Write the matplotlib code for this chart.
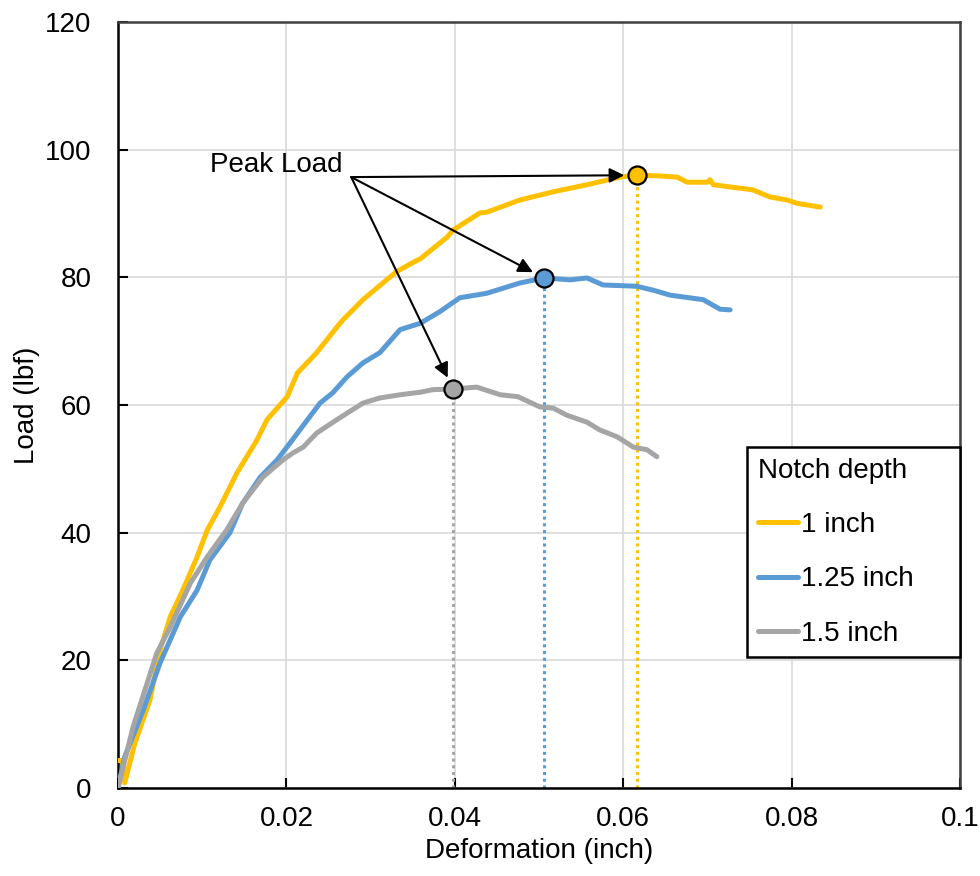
import matplotlib

matplotlib.use("Agg")

import matplotlib.pyplot as plt  # noqa: E402

plt.rcParams["font.family"] = ["Liberation Sans", "DejaVu Sans"]

# 1 inch notch
x_1in = [0.0000, 0.0005, 0.0008, 0.0020, 0.0038, 0.0050, 0.0062, 0.0077, 0.0094,
         0.0106, 0.0121, 0.0141, 0.0165, 0.0177, 0.0201, 0.0213, 0.0236, 0.0260,
         0.0267, 0.0291, 0.0319, 0.0331, 0.0350, 0.0359, 0.0391, 0.0398, 0.0430,
         0.0438, 0.0477, 0.0517, 0.0557, 0.0596, 0.0616, 0.0640, 0.0664, 0.0676,
         0.0700, 0.0703, 0.0707, 0.0754, 0.0774, 0.0795, 0.0806, 0.0834]
y_1in = [4.3, 4.3, 0.8, 7.0, 13.8, 21.6, 26.8, 31.0, 36.2,
         40.4, 44.0, 49.3, 54.5, 57.7, 61.3, 65.0, 68.2, 72.2,
         73.3, 76.5, 79.6, 80.9, 82.3, 82.9, 86.3, 87.4, 90.1,
         90.2, 92.1, 93.4, 94.5, 95.7, 96.0, 95.9, 95.7, 94.9,
         94.9, 95.3, 94.5, 93.7, 92.6, 92.1, 91.6, 91.0]

# 1.25 inch notch
x_125in = [0.0000, 0.0008, 0.0030, 0.0050, 0.0074, 0.0094, 0.0109, 0.0133, 0.0148,
           0.0169, 0.0189, 0.0207, 0.0216, 0.0240, 0.0255, 0.0272, 0.0291, 0.0311,
           0.0335, 0.0359, 0.0382, 0.0406, 0.0438, 0.0477, 0.0506, 0.0537, 0.0557,
           0.0576, 0.0616, 0.0635, 0.0656, 0.0695, 0.0715, 0.0727]
y_125in = [0.0, 4.9, 12.2, 19.6, 26.8, 31.0, 35.7, 40.0, 44.6,
           48.7, 51.4, 54.5, 56.1, 60.3, 61.9, 64.4, 66.6, 68.2,
           71.8, 72.8, 74.6, 76.8, 77.5, 79.1, 79.9, 79.6, 79.9,
           78.8, 78.6, 78.0, 77.2, 76.5, 75.0, 74.9]

# 1.5 inch notch
x_15in = [0.0000, 0.0018, 0.0046, 0.0062, 0.0086, 0.0106, 0.0129, 0.0148, 0.0172,
          0.0196, 0.0208, 0.0220, 0.0236, 0.0260, 0.0291, 0.0311, 0.0335, 0.0359,
          0.0374, 0.0398, 0.0426, 0.0454, 0.0475, 0.0501, 0.0517, 0.0533, 0.0557,
          0.0572, 0.0593, 0.0612, 0.0628, 0.0640]
y_15in = [0.0, 9.6, 21.1, 25.2, 32.1, 36.2, 40.4, 44.6, 48.7,
          51.4, 52.5, 53.4, 55.6, 57.7, 60.3, 61.1, 61.6, 62.0,
          62.4, 62.5, 62.8, 61.6, 61.3, 59.7, 59.5, 58.4, 57.3,
          56.1, 55.0, 53.4, 53.0, 51.9]

labels = ["1 inch", "1.25 inch", "1.5 inch"]
colors = ["#FFC000", "#5B9BD5", "#A5A5A5"]
peak_x = [0.0616, 0.0506, 0.0398]
peak_y = [96.0, 79.9, 62.5]

x_ticks = [0, 0.02, 0.04, 0.06, 0.08, 0.1]
x_tick_labels = ["0", "0.02", "0.04", "0.06", "0.08", "0.1"]
y_ticks = [0, 20, 40, 60, 80, 100, 120]

fig = plt.figure(figsize=(9.8, 8.76), dpi=100)
ax = fig.add_axes([0.1204, 0.1005, 0.8592, 0.8744])

series = [(x_1in, y_1in), (x_125in, y_125in), (x_15in, y_15in)]
for (xs, ys), lab, col in zip(series, labels, colors):
    ax.plot(xs, ys, color=col, lw=3.6, label=lab, solid_capstyle="round",
            solid_joinstyle="round", zorder=3)

# dotted drop lines and peak markers
for px, py, col in zip(peak_x, peak_y, colors):
    ax.plot([px, px], [0, py], color=col, lw=2.2, ls=(0, (1, 1.2)), zorder=2)
    ax.plot(px, py, "o", ms=13, mfc=col, mec="black", mew=1.6, zorder=5)

ax.text(0.0267, 97.6, "Peak Load", fontsize=20, ha="right", va="center")
start = (0.0277, 95.7)
for px, py in zip(peak_x, peak_y):
    ax.annotate("", xy=(px, py), xytext=start,
                arrowprops=dict(arrowstyle="-|>", color="black", lw=1.5,
                                shrinkA=0, shrinkB=9, mutation_scale=22),
                zorder=4)

ax.set_xlim(0, 0.1)
ax.set_ylim(0, 120)
ax.set_xticks(x_ticks)
ax.set_xticklabels(x_tick_labels)
ax.set_yticks(y_ticks)
ax.grid(True, color="#D9D9D9", lw=1.2, zorder=0)
ax.set_axisbelow(True)

ax.tick_params(axis="both", direction="in", length=7, width=1.5, labelsize=20)
ax.tick_params(axis="x", pad=13)
ax.tick_params(axis="y", pad=19)
for side in ["left", "bottom"]:
    ax.spines[side].set_color("black")
    ax.spines[side].set_linewidth(1.8)
for side in ["top", "right"]:
    ax.spines[side].set_color("#404040")
    ax.spines[side].set_linewidth(1.8)

ax.set_xlabel("Deformation (inch)", fontsize=20, labelpad=4)
ax.set_ylabel("Load (lbf)", fontsize=20, labelpad=4)

leg = ax.legend(loc="upper left", bbox_to_anchor=(0.747, 0.18, 0.253, 0.265),
                mode="expand", borderaxespad=0,
                title="Notch depth", fontsize=20, title_fontsize=20,
                handlelength=1.45, handletextpad=0.1, labelspacing=1.02,
                fancybox=False, framealpha=1, edgecolor="black",
                alignment="left", borderpad=0.38)
leg.get_frame().set_linewidth(1.8)

fig.savefig("out.png", dpi=100)
